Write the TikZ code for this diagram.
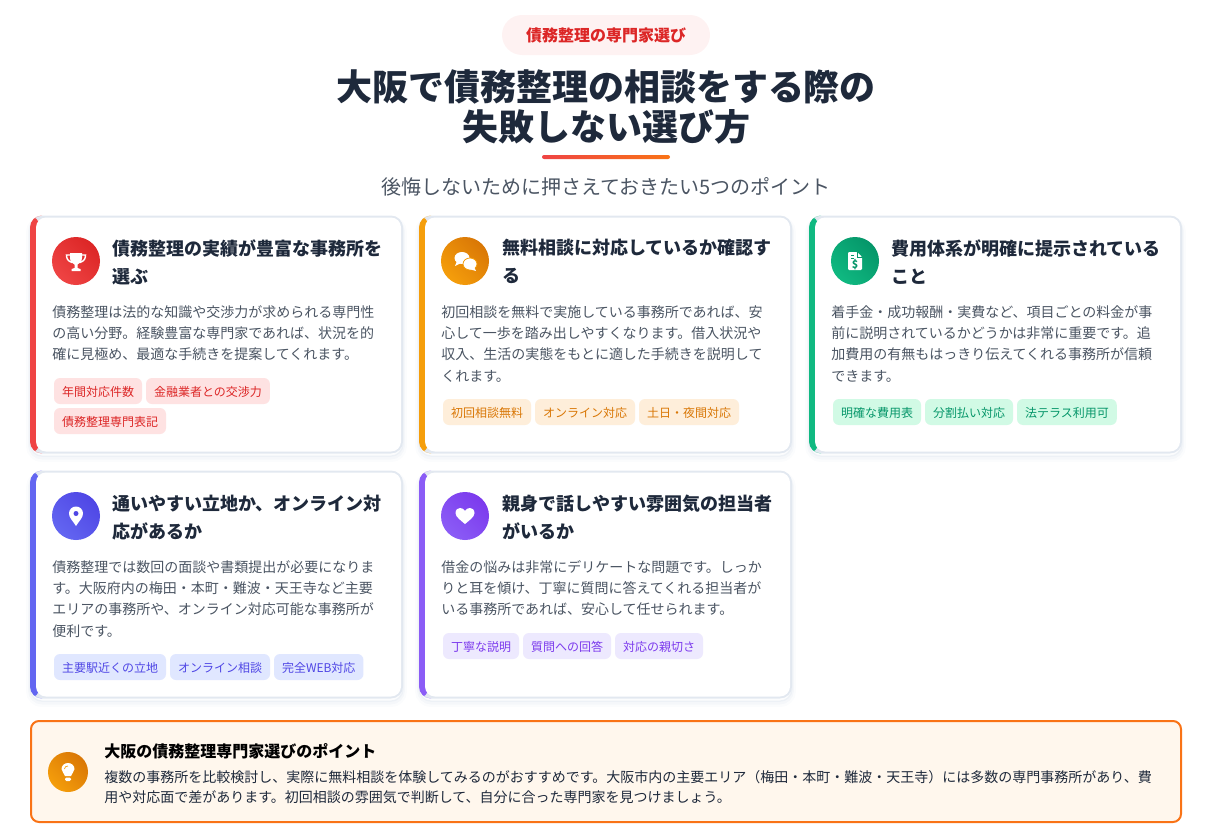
\documentclass[tikz,border=0pt]{standalone}
\usepackage{fontspec}
\setmainfont{Noto Sans CJK JP}
\usepackage{tikz}
\usetikzlibrary{positioning}

\definecolor{inkdark}{HTML}{1E293B}
\definecolor{inkbody}{HTML}{4B5563}
\definecolor{cardline}{HTML}{E2E8F0}
\definecolor{redlight}{HTML}{EF4444}
\definecolor{reddark}{HTML}{DC2626}
\definecolor{redtag}{HTML}{FEE2E2}
\definecolor{orangelight}{HTML}{F59E0B}
\definecolor{orangedark}{HTML}{D97706}
\definecolor{orangetag}{HTML}{FEEEDA}
\definecolor{greenlight}{HTML}{10B981}
\definecolor{greendark}{HTML}{059669}
\definecolor{greentag}{HTML}{D1FAE5}
\definecolor{indigolight}{HTML}{6366F1}
\definecolor{indigodark}{HTML}{4F46E5}
\definecolor{indigotag}{HTML}{E0E7FF}
\definecolor{violetlight}{HTML}{8B5CF6}
\definecolor{violetdark}{HTML}{7C3AED}
\definecolor{violettag}{HTML}{EDE9FE}
\definecolor{tipborder}{HTML}{F97316}
\definecolor{tipfill}{HTML}{FFF7ED}
\definecolor{pillfill}{HTML}{FEF2F2}

\tikzset{
  cardbox/.style={anchor=north west,inner sep=0pt,outer sep=0pt,minimum width=279.75pt,
    rounded corners=9pt,fill=cardline,
    preaction={draw=cardline,opacity=.12,line width=6pt,transform canvas={yshift=-3.5pt}},
    preaction={draw=cardline,opacity=.25,line width=3pt,transform canvas={yshift=-3pt}},
    preaction={draw=cardline,opacity=.4,line width=1pt,transform canvas={yshift=-2pt}},
    path picture={
      \fill[#1] (path picture bounding box.north west) rectangle
        ([xshift=7.5pt]path picture bounding box.south west);
      \fill[white,rounded corners=7.5pt]
        ([shift={(6,2)}]path picture bounding box.north west) rectangle
        ([shift={(-2,-2)}]path picture bounding box.south east);
    }},
  iconcircle/.style 2 args={circle,inner sep=0pt,minimum size=36pt,
    left color=#1,right color=#2,shading angle=135},
  cardtitle/.style={anchor=north west,inner sep=0pt,align=left,text=inkdark,
    font=\fontsize{13.5}{21}\selectfont\bfseries},
  cardbody/.style={anchor=north west,inner sep=0pt,align=left,text=inkbody,
    font=\fontsize{10.5}{16}\selectfont},
  tagbox/.style={inner xsep=6pt,inner ysep=0pt,outer sep=0pt,minimum height=19.5pt,rounded corners=4.5pt,
    text height=9pt,text depth=1.5pt,font=\fontsize{9}{12}\selectfont},
  tagred/.style={tagbox,fill=redtag,text=reddark},
  tagorange/.style={tagbox,fill=orangetag,text=orangedark},
  taggreen/.style={tagbox,fill=greentag,text=greendark},
  tagindigo/.style={tagbox,fill=indigotag,text=indigodark},
  tagviolet/.style={tagbox,fill=violettag,text=violetdark}
}

\begin{document}
\begin{tikzpicture}[x=0.75pt,y=-0.75pt]
  \useasboundingbox (0,0) rectangle (1208,835);
  % Header
  \node (pill) [fill=pillfill,rounded corners=15pt,minimum width=156pt,minimum height=30pt,
    inner sep=0pt,text=reddark,font=\fontsize{12}{16}\selectfont\bfseries] at (606,35) {\raisebox{-.5pt}{債務整理の専門家選び}};
  \node (headline) [align=center,inner sep=0pt,text=inkdark,
    font=\fontsize{27}{30}\selectfont\bfseries] at (606,106.5) {大阪で債務整理の相談をする際の\\失敗しない選び方};
  \node (underline) [rounded corners=1.5pt,minimum width=96pt,minimum height=3pt,inner sep=0pt,
    left color=redlight,right color=tipborder] at (606,157) {};
  \node (subhead) [inner sep=0pt,text=inkbody,font=\fontsize{15}{20}\selectfont] at (606,186.5)
    {後悔しないために押さえておきたい5つのポイント};

  % Card 1
  \node (card1) [cardbox=redlight,minimum height=178.5pt] at (30,215.5) {};
  \node (icon1) [iconcircle={redlight}{reddark}] at (76,261) {};
  \node (title1) [cardtitle] at (112,239) {債務整理の実績が豊富な事務所を\\選ぶ};
  \node (body1) [cardbody] at (52,305) {債務整理は法的な知識や交渉力が求められる専門性\\の高い分野。経験豊富な専門家であれば、状況を的\\確に見極め、最適な手続きを提案してくれます。};
  \node (tag11) [tagred,anchor=north west] at (54,378) {年間対応件数};
  \node (tag12) [tagred,right=3pt of tag11] {金融業者との交渉力};
  \node (tag13) [tagred,anchor=north west] at (54,408) {債務整理専門表記};
  \begin{scope}[shift={(icon1)}]
    \fill[white] (-6,-8) -- (6,-8) -- (6,-3) .. controls (6,1) and (3,3) .. (1.5,3.5)
      -- (1.5,7) -- (4.5,8) -- (4.5,10) -- (-4.5,10) -- (-4.5,8) -- (-1.5,7) -- (-1.5,3.5)
      .. controls (-3,3) and (-6,1) .. (-6,-3) -- cycle;
    \draw[white,line width=1.1pt] (-6,-6) -- (-9.5,-6) .. controls (-9.5,-2) and (-8,0) .. (-4,1.5);
    \draw[white,line width=1.1pt] (6,-6) -- (9.5,-6) .. controls (9.5,-2) and (8,0) .. (4,1.5);
  \end{scope}

  % Card 2
  \node (card2) [cardbox=orangelight,minimum height=178.5pt] at (419,215.5) {};
  \node (icon2) [iconcircle={orangelight}{orangedark}] at (465,261) {};
  \node (title2) [cardtitle] at (502,239) {無料相談に対応しているか確認す\\る};
  \node (body2) [cardbody] at (441,305) {初回相談を無料で実施している事務所であれば、安\\心して一歩を踏み出しやすくなります。借入状況や\\収入、生活の実態をもとに適した手続きを説明して\\くれます。};
  \node (tag21) [tagorange,anchor=north west] at (443,399) {初回相談無料};
  \node (tag22) [tagorange,right=3pt of tag21] {オンライン対応};
  \node (tag23) [tagorange,right=3pt of tag22] {土日・夜間対応};
  \begin{scope}[shift={(icon2)}]
    \fill[white] (-3,-3) ellipse (7.5 and 6);
    \fill[white] (-8,0) -- (-10,5) -- (-4,2) -- cycle;
    \fill[white,draw=orangelight,line width=.6pt] (5,3) ellipse (7 and 6);
    \fill[white] (9,6) -- (11,10) -- (4,8) -- cycle;
  \end{scope}

  % Card 3
  \node (card3) [cardbox=greenlight,minimum height=178.5pt] at (809,215.5) {};
  \node (icon3) [iconcircle={greenlight}{greendark}] at (855,261) {};
  \node (title3) [cardtitle] at (891,239) {費用体系が明確に提示されている\\こと};
  \node (body3) [cardbody] at (831,305) {着手金・成功報酬・実費など、項目ごとの料金が事\\前に説明されているかどうかは非常に重要です。追\\加費用の有無もはっきり伝えてくれる事務所が信頼\\できます。};
  \node (tag31) [taggreen,anchor=north west] at (833,399) {明確な費用表};
  \node (tag32) [taggreen,right=3pt of tag31] {分割払い対応};
  \node (tag33) [taggreen,right=3pt of tag32] {法テラス利用可};
  \begin{scope}[shift={(icon3)}]
    \fill[white,rounded corners=.8pt] (-7,-9) -- (2,-9) -- (7,-4) -- (7,9) -- (-7,9) -- cycle;
    \draw[greendark,line width=.5pt] (2,-9) -- (2,-4) -- (7,-4);
    \draw[greendark,line width=.5pt] (-4,-5.5) -- (-1,-5.5) (-4,-2.5) -- (-1,-2.5);
    \node (dollar) [inner sep=0pt,text=greendark,font=\fontsize{8}{8}\selectfont\bfseries] at (0,3.5) {\$};
  \end{scope}

  % Card 4
  \node (card4) [cardbox=indigolight,minimum height=171pt] at (30,470.5) {};
  \node (icon4) [iconcircle={indigolight}{indigodark}] at (76,516) {};
  \node (title4) [cardtitle] at (112,495) {通いやすい立地か、オンライン対\\応があるか};
  \node (body4) [cardbody] at (52,560) {債務整理では数回の面談や書類提出が必要になりま\\す。大阪府内の梅田・本町・難波・天王寺など主要\\エリアの事務所や、オンライン対応可能な事務所が\\便利です。};
  \node (tag41) [tagindigo,anchor=north west] at (54,654) {主要駅近くの立地};
  \node (tag42) [tagindigo,right=3pt of tag41] {オンライン相談};
  \node (tag43) [tagindigo,right=3pt of tag42] {完全WEB対応};
  \begin{scope}[shift={(icon4)}]
    \fill[white] (0,10) .. controls (-3,5) and (-7,2) .. (-7,-2.5)
      .. controls (-7,-6.5) and (-4,-9.5) .. (0,-9.5)
      .. controls (4,-9.5) and (7,-6.5) .. (7,-2.5)
      .. controls (7,2) and (3,5) .. (0,10) -- cycle;
    \fill[indigodark] (0,-2.5) circle (2.5);
  \end{scope}

  % Card 5
  \node (card5) [cardbox=violetlight,minimum height=171pt] at (419,470.5) {};
  \node (icon5) [iconcircle={violetlight}{violetdark}] at (465,516) {};
  \node (title5) [cardtitle] at (502,495) {親身で話しやすい雰囲気の担当者\\がいるか};
  \node (body5) [cardbody] at (441,560) {借金の悩みは非常にデリケートな問題です。しっか\\りと耳を傾け、丁寧に質問に答えてくれる担当者が\\いる事務所であれば、安心して任せられます。};
  \node (tag51) [tagviolet,anchor=north west] at (443,633) {丁寧な説明};
  \node (tag52) [tagviolet,right=3pt of tag51] {質問への回答};
  \node (tag53) [tagviolet,right=3pt of tag52] {対応の親切さ};
  \begin{scope}[shift={(icon5)}]
    \fill[white] (0,8) .. controls (-4,4.5) and (-9.5,1) .. (-9.5,-3)
      .. controls (-9.5,-6.5) and (-7,-8) .. (-5,-8)
      .. controls (-3,-8) and (-1,-7) .. (0,-5)
      .. controls (1,-7) and (3,-8) .. (5,-8)
      .. controls (7,-8) and (9.5,-6.5) .. (9.5,-3)
      .. controls (9.5,1) and (4,4.5) .. (0,8) -- cycle;
  \end{scope}

  % Tip
  \node (tip) [anchor=north west,draw=tipborder,fill=tipfill,line width=1.5pt,rounded corners=6pt,
    minimum width=862.5pt,minimum height=75.75pt,inner sep=0pt] at (30,720) {};
  \node (icon6) [iconcircle={orangelight}{orangedark},minimum size=30pt] at (68,772) {};
  \node (tiptitle) [anchor=north west,inner sep=0pt,text=black,
    font=\fontsize{12}{16}\selectfont\bfseries] at (104,743) {大阪の債務整理専門家選びのポイント};
  \node (tipbody) [anchor=north west,inner sep=0pt,align=left,text=inkdark,
    font=\fontsize{10.5}{15}\selectfont] at (104,770) {複数の事務所を比較検討し、実際に無料相談を体験してみるのがおすすめです。大阪市内の主要エリア（梅田・本町・難波・天王寺）には多数の専門事務所があり、費\\用や対応面で差があります。初回相談の雰囲気で判断して、自分に合った専門家を見つけましょう。};
  \begin{scope}[shift={(icon6)}]
    \fill[white] (-3,4) .. controls (-3.5,1) and (-6.5,0) .. (-6.5,-3)
      .. controls (-6.5,-6.5) and (-3.5,-9) .. (0,-9)
      .. controls (3.5,-9) and (6.5,-6.5) .. (6.5,-3)
      .. controls (6.5,0) and (3.5,1) .. (3,4) -- cycle;
    \fill[white,rounded corners=1pt] (-3,5.5) rectangle (3,9);
    \draw[orangelight,line width=.5pt] (-3.5,-3) .. controls (-3.5,-5) and (-2,-6) .. (0,-6);
  \end{scope}
\end{tikzpicture}
\end{document}
